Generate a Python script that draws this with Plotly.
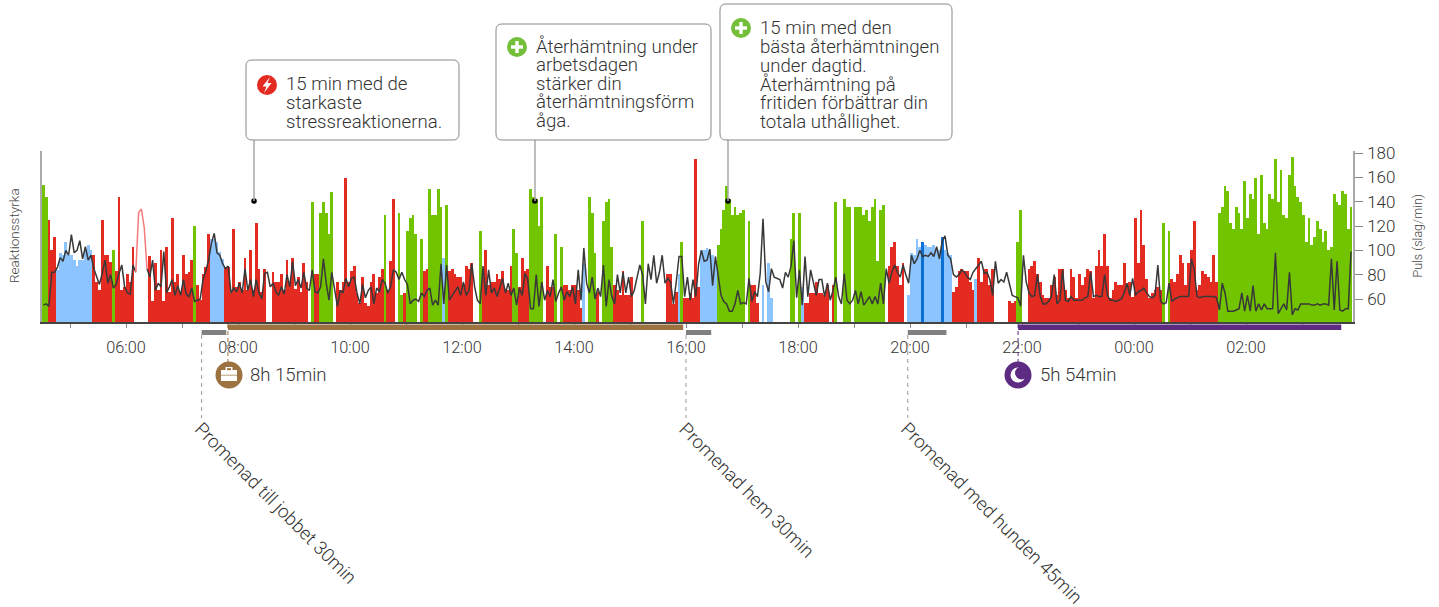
import plotly.graph_objects as go

# ---- data ----
reaction_a = [137,125,102,72,85,52,69,67,80,67,
 67,62,56,62,62,72,77,72,67,40,
 32,102,67,67,60,72,51,125,32,35,
 48,40,75,0,0,0,0,0,66,21,
 59,32,72,21,75,30,104,40,48,30,
 67,48,50,62,96,37,22,48,55,88,
 83,83,80,70,63,55,55,29,93,35,
 40,32,64,32,72,32,99,53,30,53,
 0,0,50,40,40,48,32,62,40,64,
 33,45,30,59,40,0,120,48,48,109,
 120,109,88,130,0,40,32,40,144,40]
kinds_a = ("ggrrrbbbbb" "bbbbbbbbrr" "rrrrrgrrrr" "rrr-----rr" "rrrrrrrrrr"
           "rrrrgrrrrr" "bbbbbrrrrr" "rrrrrrrrrr" "--rrrrrrrr" "rrrrr-grrg" "gggg-rrrrr")
reaction_b = [51,56,29,19,45,19,16,40,48,29,
 45,53,107,32,61,123,0,109,27,29,
 91,104,107,88,0,83,51,53,133,107,
 107,133,115,64,117,51,53,48,45,45,
 38,56,53,59,0,0,91,45,72,37,
 40,40,48,43,51,33,32,56,93,69,
 35,64,51,53,133,125,123,96,125,0,
 56,35,35,88,0,75,37,37,32,37,
 37,32,14,59,0,125,109,69,30,0,
 101,120,123,75,37,32,27,51,27,27,
 45,0,0,0,101,0,0,0,0,0,
 0,0,0,48,48,18,30,48]
kinds_b = ("rrrrrrrrrr" "rrgrrr-ggr" "gggg-grrgg" "gggbgrrrrr" "rrrr--grrr"
           "rrrrrrrrgg" "rrrrggggg-" "rrrg-grrrr" "rrrb-gggr-" "ggggrrrrrr"
           "r---g-----" "---rrrrb")
reaction_c = [80,24,24,29,24,163,35,72,72,74,
 72,67,60,77,93,112,136,123,107,115,
 107,109,112,0,101,37,37,19,0,37,
 0,59,24,0,0,0,0,0,0,83,
 109,0,109,35,19,19,29,29,40,29,
 29,27,37,0,37,120,0,0,123,115,
 115,0,115,115,115,107,112,101,115,123,
 61,112,117,0,56,75,80,56,37,59,
 0,27,69,67,83,75,80,77,75,75,
 77,72,72,85,72,69,67,30,35,51,
 53,51,51,40,32,43,64,40,53,53,
 37,53,0,0,0,0,0]
kinds_c = ("grrrrrrbbb" "bbbggggggg" "ggg-grrr-b" "-bb------g" "g-gbrrrrrr"
           "rrr-rg--gg" "g-gggggggg" "ggg-rrrrrr" "-bbbbbdbbb" "bbbdbbbrrr"
           "rrrrrbrrrr" "rr-----")
reaction_d = [21,19,21,80,112,0,0,53,56,61,
 48,40,27,24,24,37,45,27,53,53,
 32,24,53,45,24,48,37,45,53,51,
 24,56,72,56,88,56,24,32,40,37,
 37,59,37,40,25,104,59,112,77,43,
 24,29,32,35,32,99,0,91,43,40,
 48,67,59,37,59,72,101,32,37,51,
 48,45,40,67,40,109,115,136,131,99,
 93,115,109,93,141,104,128,123,144,88,
 147,99,93,128,123,163,120,152,107,104,
 147,165,136,125,120,107,80,104,77,85,
 101,93,80,91,72,75,128,120,117,131,
 128,93,115]
kinds_d = ("rrrgg--rrr" "rrrrrrrrrr" "rrrrrrrrrr" "rrrrrrrrrr" "rrrrrrrrrr"
           "rrrrrg-grr" "rrrrrrrrrr" "rrrrrggggg" "gggggggggg" "gggggggggg"
           "gggggggggg" "gggggggggg" "ggg")
pulse_a = [55,56,54,82,82,86,94,91,100,96,
 113,98,100,108,93,103,92,96,85,79,
 72,81,92,73,80,69,72,81,88,70,
 65,64,88,82,131,134,119,85,78,92,
 67,73,70,99,65,70,76,63,71,63,
 76,64,62,69,58,59,60,76,83,92,
 106,114,98,96,89,85,87,65,69,66,
 73,65,85,67,76,62,76,65,60,81,
 82,70,73,66,63,70,64,80,70,91,
 71,76,69,82,69,67,84,66,65,70,
 93,73,59,82,67,54,67,65,77,70]
pulse_b = [77,78,65,56,72,61,67,70,56,69,
 66,76,73,65,70,84,82,76,82,76,
 72,56,59,60,58,65,62,67,69,55,
 59,55,89,56,88,59,63,67,70,63,
 74,63,67,89,70,59,56,87,63,84,
 65,69,62,69,77,65,73,63,69,55,
 69,63,81,76,52,52,80,54,74,59,
 67,62,76,58,65,70,59,66,62,70,
 56,84,59,102,73,65,78,60,69,62,
 88,54,76,62,56,80,65,82,65,78,
 62,67,78,88,80,56,89,76,96,73,
 82,96,73,77,74,56,74,95]
pulse_c = [95,62,78,59,76,62,89,100,91,92,
 101,71,95,78,63,58,56,50,50,56,
 67,56,57,56,77,58,66,62,81,126,
 74,66,85,78,77,76,69,82,78,87,
 108,61,84,55,95,62,84,73,63,76,
 76,62,73,59,67,78,62,56,81,59,
 56,59,67,56,66,55,59,62,56,62,
 56,73,56,85,73,82,88,82,78,88,
 80,73,96,89,93,100,95,96,95,98,
 95,103,93,108,112,96,93,80,78,80,
 84,82,78,76,82,85,89,91,81,82,
 76,63,91,73,76,74,82]
pulse_d = [73,63,62,61,54,96,74,65,62,63,
 80,62,56,56,58,62,80,56,59,84,
 59,58,62,59,59,59,59,61,62,82,
 62,63,62,62,80,63,59,59,58,59,
 60,65,73,63,77,63,66,67,69,65,
 62,61,63,88,58,56,57,73,58,60,
 61,62,62,62,62,93,84,62,61,62,
 62,62,62,62,61,51,73,65,50,50,
 50,51,52,65,50,63,50,71,50,56,
 51,56,52,52,52,98,48,52,56,51,
 82,47,52,51,56,56,56,56,55,55,
 56,55,56,56,55,93,51,91,51,50,
 52,52,99]
hour_ticks = list(range(5, 28))
hour_labels = {6:"06:00",8:"08:00",10:"10:00",12:"12:00",14:"14:00",16:"16:00",18:"18:00",
               20:"20:00",22:"22:00",24:"00:00",26:"02:00"}
pulse_ticks = [60,80,100,120,140,160,180]
walks = [(7.35,7.79),(16.0,16.45),(19.96,20.65)]
walk_labels = ["Promenad till jobbet 30min","Promenad hem 30min","Promenad med hunden 45min"]
work_span = (7.82,15.95)
sleep_span = (21.93,27.70)
marker_hours = [8.286,13.30,16.75]
marker_levels = [121,121,121]
work_label = "8h 15min"
sleep_label = "5h 54min"
axis_start, axis_end = 4.5, 27.91
pulse_range = [41.1, 181.7]
pink_span = (33, 37)
note_1 = ["15 min med de","starkaste","stressreaktionerna."]
note_2 = ["Återhämtning under","arbetsdagen","stärker din","återhämtningsförm","åga."]
note_3 = ["15 min med den","bästa återhämtningen","under dagtid.","Återhämtning på","fritiden förbättrar din","totala uthållighet."]

# ---- styles ----
COL = {"r":"#e32b22","g":"#73c400","b":"#8cc4ff","d":"#0a70d4","-":"#ffffff"}
RED,GREEN,BROWN,PURPLE = "#e32b22","#73bf3a","#9b7240","#5e2b82"
TXT = "#333333"
FONT = "Roboto"
L,R,T,B = 42,1353,151,322

heights = reaction_a+reaction_b+reaction_c+reaction_d
kinds = kinds_a+kinds_b+kinds_c+kinds_d
pulse = pulse_a+pulse_b+pulse_c+pulse_d
step = 0.05
xs = [axis_start+(i+0.5)*step for i in range(len(heights))]

fx = lambda X:(X-L)/(R-L)
fy = lambda Y:(B-Y)/(B-T)

fig = go.Figure()
fig.add_bar(x=xs,y=heights,width=step,marker=dict(color=[COL[k] for k in kinds],line=dict(width=0)),
            showlegend=False,hoverinfo="skip")
a,b = pink_span
dark = [None if a<i<b else v for i,v in enumerate(pulse)]
fig.add_scatter(x=xs,y=dark,yaxis="y2",mode="lines",line=dict(color="#383838",width=1.5),showlegend=False,connectgaps=False)
fig.add_scatter(x=xs[a:b+1],y=pulse[a:b+1],yaxis="y2",mode="lines",line=dict(color="#f47a7a",width=1.5),showlegend=False)
fig.add_scatter(x=marker_hours,y=marker_levels,mode="markers",marker=dict(color="#000",size=5.5),showlegend=False)

shapes,anns = [],[]
def line_px(x0,y0,x1,y1,color,width=1,dash=None):
    shapes.append(dict(type="line",xref="paper",yref="paper",x0=fx(x0),x1=fx(x1),y0=fy(y0),y1=fy(y1),
                       line=dict(color=color,width=width,dash=dash or "solid")))
def rect_px(x0,y0,x1,y1,color):
    shapes.append(dict(type="rect",xref="paper",yref="paper",x0=fx(x0),x1=fx(x1),y0=fy(y0),y1=fy(y1),
                       fillcolor=color,line=dict(width=0)))
def circ_px(cx,cy,r,color):
    shapes.append(dict(type="circle",xref="paper",yref="paper",x0=fx(cx-r),x1=fx(cx+r),y0=fy(cy-r),y1=fy(cy+r),
                       fillcolor=color,line=dict(width=0)))
def poly_px(pts,color):
    p = "M"+" L".join(f"{fx(x):.5f},{fy(y):.5f}" for x,y in pts)+" Z"
    shapes.append(dict(type="path",xref="paper",yref="paper",path=p,fillcolor=color,line=dict(width=0)))
def rbox(x0,y0,x1,y1,r=6):
    p=f"M{fx(x0+r):.5f},{fy(y0):.5f} L{fx(x1-r):.5f},{fy(y0):.5f} Q{fx(x1):.5f},{fy(y0):.5f} {fx(x1):.5f},{fy(y0+r):.5f} "
    p+=f"L{fx(x1):.5f},{fy(y1-r):.5f} Q{fx(x1):.5f},{fy(y1):.5f} {fx(x1-r):.5f},{fy(y1):.5f} "
    p+=f"L{fx(x0+r):.5f},{fy(y1):.5f} Q{fx(x0):.5f},{fy(y1):.5f} {fx(x0):.5f},{fy(y1-r):.5f} "
    p+=f"L{fx(x0):.5f},{fy(y0+r):.5f} Q{fx(x0):.5f},{fy(y0):.5f} {fx(x0+r):.5f},{fy(y0):.5f} Z"
    shapes.append(dict(type="path",xref="paper",yref="paper",path=p,fillcolor="#ffffff",line=dict(color="#888888",width=1)))
def text_px(X,Y,t,size=18.6,anchor="left",angle=0,color=TXT):
    anns.append(dict(xref="paper",yref="paper",x=fx(X),y=fy(Y),text=t,showarrow=False,xanchor=anchor,yanchor="middle",
                     textangle=angle,font=dict(family=FONT,size=size,color=color,weight=300)))

def note(box,stem_x,icon_y,lines,first_y,icon_color,kind):
    x0,y0,x1,y1 = box
    line_px(stem_x,y1,stem_x,201,"#a8a8a8",1.5)
    rbox(x0,y0,x1,y1)
    ix = x0+21
    circ_px(ix,icon_y,10,icon_color)
    if kind=="bolt":
        poly_px([(ix+3,icon_y-8),(ix-4.5,icon_y+1.5),(ix-0.5,icon_y+1.5),(ix-3,icon_y+8),(ix+4.5,icon_y-2),(ix+0.5,icon_y-2)],"#fff")
    else:
        rect_px(ix-6,icon_y-1.7,ix+6,icon_y+1.7,"#fff")
        rect_px(ix-1.7,icon_y-6,ix+1.7,icon_y+6,"#fff")
    for k,t in enumerate(lines):
        text_px(x0+38,first_y+k*18.75,t)

note((246,60,459,140),254,85,note_1,84,RED,"bolt")
note((496,24,711,140),535,47,note_2,46,GREEN,"plus")
note((720,4,952,140),728,28,note_3,28,GREEN,"plus")

# bottom bars
to_x = lambda h: L+(h-axis_start)*56
for s,e in walks:
    shapes.append(dict(type="rect",xref="x",yref="paper",x0=s,x1=e,y0=fy(335),y1=fy(330),fillcolor="#808080",line=dict(width=0)))
    line_px(to_x(s),335,to_x(s),418,"#999999",1,"4px,4px")
for span,col in ((work_span,BROWN),(sleep_span,PURPLE)):
    shapes.append(dict(type="rect",xref="x",yref="paper",x0=span[0],x1=span[1],y0=fy(330),y1=fy(324.5),fillcolor=col,line=dict(width=0)))
    line_px(to_x(span[0]),324,to_x(span[0]),362,col,1,"4px,3px")

# icons below axis
cx,cy = 229,375
circ_px(cx,cy,13.5,BROWN)
rect_px(cx-8,cy-5,cx+8,cy+6,"#fff")
rect_px(cx-3.5,cy-8,cx+3.5,cy-4,"#fff")
rect_px(cx-2,cy-6.8,cx+2,cy-4.8,BROWN)
rect_px(cx-8,cy-0.2,cx+8,cy+0.5,BROWN)
text_px(248,374.5,work_label)
cx,cy = 1018,375
circ_px(cx,cy,13.5,PURPLE)
circ_px(cx,cy,7.5,"#fff")
circ_px(cx+3.5,cy-2,6.5,PURPLE)
text_px(1038,374.5,sleep_label)

# rotated labels
for (xc,yc),t in zip([(275,503),(746,490),(991,513)],walk_labels):
    text_px(xc,yc,t,18.6,"center",45)

# axis titles
text_px(14,236,"Reaktionsstyrka",13.5,"center",-90,"#444444")
text_px(1417,236.5,"Puls (slag/min)",12.5,"center",-90,"#444444")

fig.update_layout(
    width=1439,height=607,autosize=False,
    margin=dict(l=L,r=1439-R,t=T,b=607-B,pad=0),
    paper_bgcolor="#fff",plot_bgcolor="#fff",bargap=0,
    shapes=shapes,annotations=anns,
    xaxis=dict(range=[axis_start,axis_end],tickmode="array",tickvals=hour_ticks,
               ticktext=[hour_labels.get(h,"") for h in hour_ticks],ticks="outside",ticklen=4,tickwidth=1,
               tickcolor="#888888",showgrid=False,zeroline=False,showline=True,linecolor="#444444",linewidth=1.5,
               ticklabelstandoff=6,tickfont=dict(family=FONT,size=16.3,color=TXT,weight=300)),
    yaxis=dict(range=[0,171],showticklabels=False,ticks="",showgrid=False,zeroline=False,
               showline=True,linecolor="#aaaaaa",linewidth=1.5),
    yaxis2=dict(range=pulse_range,overlaying="y",side="right",tickvals=pulse_ticks,ticks="outside",ticklen=8,
                tickcolor="#888888",showgrid=False,zeroline=False,showline=True,linecolor="#aaaaaa",linewidth=1.5,
                ticklabelstandoff=1,tickfont=dict(family=FONT,size=17,color=TXT,weight=300)),
)
fig.write_html("out.html",config={"displayModeBar":False},post_script="document.body.style.margin='0';")
